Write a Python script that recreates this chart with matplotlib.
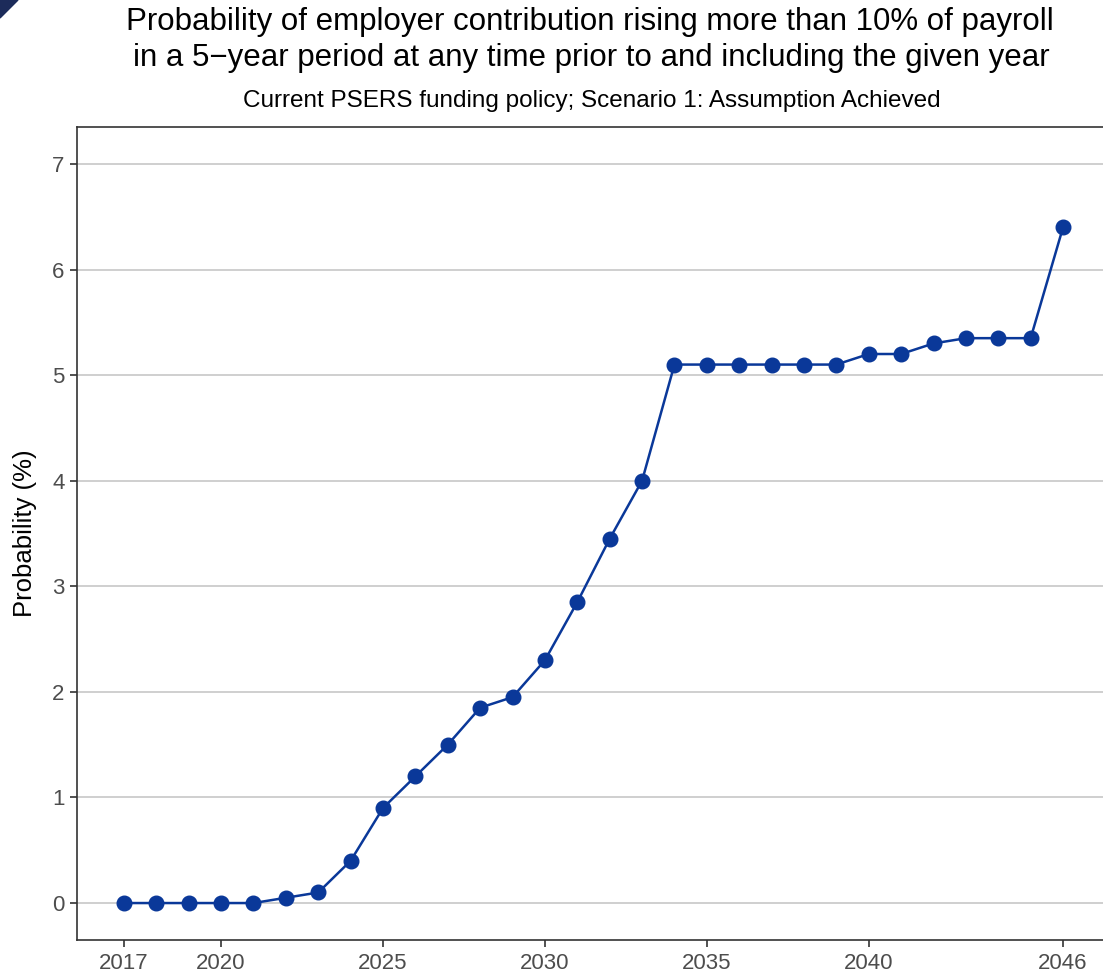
import matplotlib.pyplot as plt
from matplotlib.patches import Polygon

plt.rcParams['font.family'] = ['Liberation Sans', 'DejaVu Sans']

years = list(range(2017, 2047))
probability = [0, 0, 0, 0, 0, 0.05, 0.1, 0.4, 0.9, 1.2,
               1.5, 1.85, 1.95, 2.3, 2.85, 3.45, 4.0, 5.1, 5.1, 5.1,
               5.1, 5.1, 5.1, 5.2, 5.2, 5.3, 5.35, 5.35, 5.35, 6.4]
xticks = [2017, 2020, 2025, 2030, 2035, 2040, 2046]
yticks = [0, 1, 2, 3, 4, 5, 6, 7]

fig = plt.figure(figsize=(11.03, 9.72), dpi=100)
ax = fig.add_axes([77 / 1103, 32 / 972, 1033 / 1103, 813 / 972])

line_color = '#0a3899'
ax.plot(years, probability, color=line_color, lw=1.8,
        marker='o', markersize=10.5, markerfacecolor=line_color,
        markeredgecolor=line_color)

ax.set_xlim(2015.55, 2047.45)
ax.set_ylim(-0.35, 7.35)
ax.set_xticks(xticks)
ax.set_yticks(yticks)
ax.tick_params(labelsize=16, labelcolor='#4d4d4d', color='#333333',
               length=5, width=1.2, pad=4)
ax.yaxis.grid(True, color='#cccccc', lw=1.3)
ax.xaxis.grid(False)
ax.set_axisbelow(True)
for s in ax.spines.values():
    s.set_color('#333333')
    s.set_linewidth(1.2)

ax.set_ylabel('Probability (%)', fontsize=18.5, labelpad=11)

fig.text(0.535, 0.9774, 'Probability of employer contribution rising more than 10% of payroll',
         ha='center', va='center', fontsize=22.5)
fig.text(0.536, 0.9403, 'in a 5\u2212year period at any time prior to and including the given year',
         ha='center', va='center', fontsize=22.5)
fig.text(0.537, 0.8961, 'Current PSERS funding policy; Scenario 1: Assumption Achieved',
         ha='center', va='center', fontsize=17.5)

# small dark corner mark in the top-left
fig.patches.append(Polygon([(0, 1), (18 / 1103, 1), (0, 1 - 18 / 972)],
                           closed=True, transform=fig.transFigure,
                           color='#1c2b5a', figure=fig))

fig.savefig('out.png', dpi=100)
